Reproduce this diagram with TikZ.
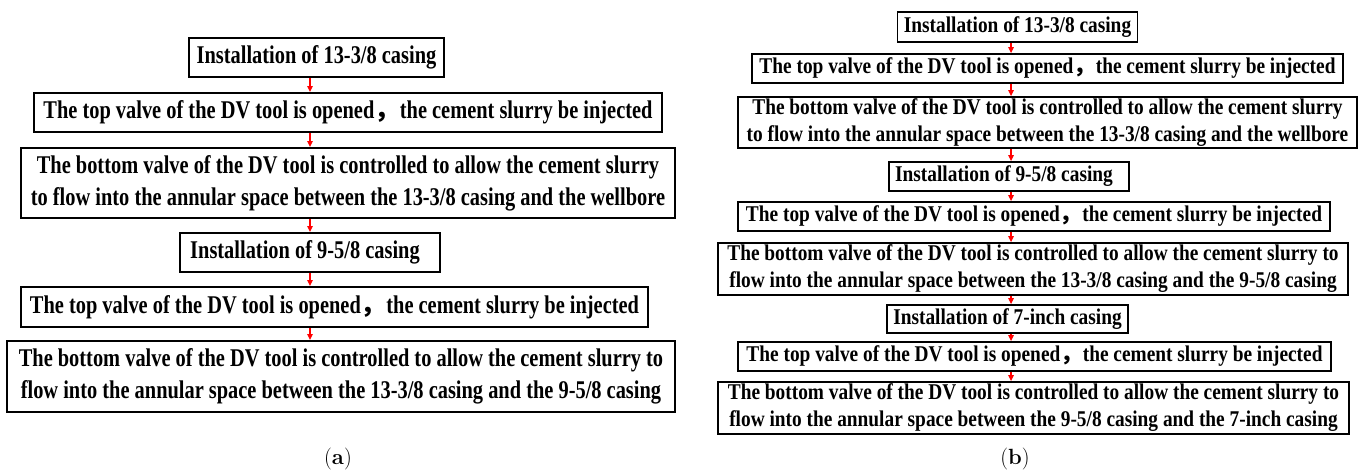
\documentclass[tikz,border=0pt]{standalone}
\usepackage{fontspec}
\setmainfont{Latin Modern Roman}
\newfontfamily\boxfonta{Liberation Serif}[FakeStretch=0.80]
\newfontfamily\boxfontb{Liberation Serif}[FakeStretch=0.86]
\newfontfamily\cjk{Noto Sans CJK SC}
\usetikzlibrary{arrows.meta}
\newcommand{\fwc}{{\cjk ，}}
\newcommand{\trail}{\hspace*{10pt}}
\tikzset{
  boxa/.style={draw=black, line width=2pt, inner sep=0pt, align=center,
    font=\boxfonta\bfseries\fontsize{25.5}{32}\selectfont},
  boxb/.style={draw=black, line width=1.8pt, inner sep=0pt, align=center,
    font=\boxfontb\bfseries\fontsize{22.5}{27}\selectfont},
  arr/.style={draw=red, line width=1.3pt, -{Triangle[length=6pt,width=5.5pt]}},
  captxt/.style={font=\fontsize{22}{26}\selectfont}
}
\begin{document}
\begin{tikzpicture}[x=1pt,y=-1pt]
\useasboundingbox (0,0) rectangle (1360,471);
% panel (a)
\node[boxa, minimum width=255pt, minimum height=39pt] (a1) at (316.5,57.5) {Installation of 13-3/8 casing};
\node[boxa, minimum width=628pt, minimum height=39pt] (a2) at (348,112.5) {The top valve of the DV tool is opened\fwc the cement slurry be injected};
\node[boxa, minimum width=654pt, minimum height=70pt] (a3) at (348,183) {The bottom valve of the DV tool is controlled to allow the cement slurry\\to flow into the annular space between the 13-3/8 casing and the wellbore};
\node[boxa, minimum width=260pt, minimum height=39pt] (a4) at (310,252.5) {Installation of 9-5/8 casing\trail};
\node[boxa, minimum width=627pt, minimum height=40pt] (a5) at (334.5,307) {The top valve of the DV tool is opened\fwc the cement slurry be injected};
\node[boxa, minimum width=668pt, minimum height=71pt] (a6) at (341,376.5) {The bottom valve of the DV tool is controlled to allow the cement slurry to\\flow into the annular space between the 13-3/8 casing and the 9-5/8 casing};
\coordinate (ax) at (310,0);
\draw[arr] (a1.south -| ax) -- (a2.north -| ax);
\draw[arr] (a2.south -| ax) -- (a3.north -| ax);
\draw[arr] (a3.south -| ax) -- (a4.north -| ax);
\draw[arr] (a4.south -| ax) -- (a5.north -| ax);
\draw[arr] (a5.south -| ax) -- (a6.north -| ax);
\node[captxt] (ca) at (338,459) {(\textbf{a})};
% panel (b)
\node[boxb, minimum width=240pt, minimum height=30pt] (b1) at (1017.5,27) {Installation of 13-3/8 casing};
\node[boxb, minimum width=591pt, minimum height=29pt] (b2) at (1047.5,68.5) {The top valve of the DV tool is opened\fwc the cement slurry be injected};
\node[boxb, minimum width=619pt, minimum height=51pt] (b3) at (1047.5,122.5) {The bottom valve of the DV tool is controlled to allow the cement slurry\\to flow into the annular space between the 13-3/8 casing and the wellbore};
\node[boxb, minimum width=240pt, minimum height=29pt] (b4) at (1009,176.5) {Installation of 9-5/8 casing\trail};
\node[boxb, minimum width=592pt, minimum height=29pt] (b5) at (1034,216.5) {The top valve of the DV tool is opened\fwc the cement slurry be injected};
\node[boxb, minimum width=630pt, minimum height=52pt] (b6) at (1033,269) {The bottom valve of the DV tool is controlled to allow the cement slurry to\\flow into the annular space between the 13-3/8 casing and the 9-5/8 casing};
\node[boxb, minimum width=241pt, minimum height=28pt] (b7) at (1007.5,319) {Installation of 7-inch casing};
\node[boxb, minimum width=593pt, minimum height=29pt] (b8) at (1034.5,356.5) {The top valve of the DV tool is opened\fwc the cement slurry be injected};
\node[boxb, minimum width=631pt, minimum height=52pt] (b9) at (1033.5,408) {The bottom valve of the DV tool is controlled to allow the cement slurry to\\flow into the annular space between the 9-5/8 casing and the 7-inch casing};
\coordinate (bx) at (1011,0);
\draw[arr] (b1.south -| bx) -- (b2.north -| bx);
\draw[arr] (b2.south -| bx) -- (b3.north -| bx);
\draw[arr] (b3.south -| bx) -- (b4.north -| bx);
\draw[arr] (b4.south -| bx) -- (b5.north -| bx);
\draw[arr] (b5.south -| bx) -- (b6.north -| bx);
\draw[arr] (b6.south -| bx) -- (b7.north -| bx);
\draw[arr] (b7.south -| bx) -- (b8.north -| bx);
\draw[arr] (b8.south -| bx) -- (b9.north -| bx);
\node[captxt] (cb) at (1015,459) {(\textbf{b})};
\end{tikzpicture}
\end{document}
